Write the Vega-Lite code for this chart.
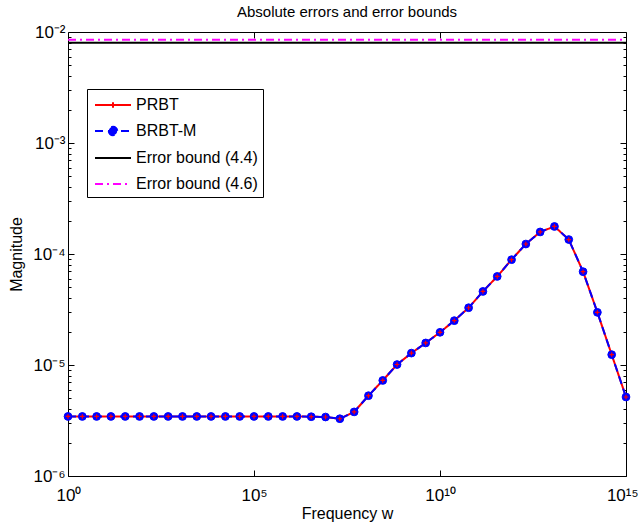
{
  "$schema": "https://vega.github.io/schema/vega-lite/v6.json",
  "width": 558,
  "height": 444,
  "autosize": "none",
  "padding": {"left": 68, "top": 32, "right": 14, "bottom": 49},
  "background": "white",
  "config": {
    "view": {"stroke": "black", "strokeWidth": 1},
    "font": "Liberation Sans",
    "axis": {"grid": false, "labelFont": "Liberation Sans", "titleFont": "Liberation Sans", "labelColor": "black", "titleColor": "black", "tickColor": "black", "domainColor": "black", "tickWidth": 1}
  },
  "title": {"text": "Absolute errors and error bounds", "fontSize": 15, "fontWeight": "normal", "font": "Liberation Sans", "color": "black", "offset": 3},
  "datasets": {
    "curve": [
      {"w": 1, "PRBT": 3.44e-6, "BRBT-M": 3.44e-6},
      {"w": 2.4245, "PRBT": 3.44e-6, "BRBT-M": 3.44e-6},
      {"w": 5.878, "PRBT": 3.44e-6, "BRBT-M": 3.44e-6},
      {"w": 14.251, "PRBT": 3.44e-6, "BRBT-M": 3.44e-6},
      {"w": 34.551, "PRBT": 3.44e-6, "BRBT-M": 3.44e-6},
      {"w": 83.768, "PRBT": 3.44e-6, "BRBT-M": 3.44e-6},
      {"w": 203.09, "PRBT": 3.44e-6, "BRBT-M": 3.44e-6},
      {"w": 492.39, "PRBT": 3.44e-6, "BRBT-M": 3.44e-6},
      {"w": 1193.8, "PRBT": 3.44e-6, "BRBT-M": 3.44e-6},
      {"w": 2894.3, "PRBT": 3.44e-6, "BRBT-M": 3.44e-6},
      {"w": 7017.0, "PRBT": 3.44e-6, "BRBT-M": 3.44e-6},
      {"w": 17013, "PRBT": 3.44e-6, "BRBT-M": 3.44e-6},
      {"w": 41246, "PRBT": 3.44e-6, "BRBT-M": 3.44e-6},
      {"w": 100000, "PRBT": 3.44e-6, "BRBT-M": 3.44e-6},
      {"w": 242450, "PRBT": 3.44e-6, "BRBT-M": 3.44e-6},
      {"w": 587800, "PRBT": 3.44e-6, "BRBT-M": 3.44e-6},
      {"w": 1425100, "PRBT": 3.44e-6, "BRBT-M": 3.44e-6},
      {"w": 3455100, "PRBT": 3.42e-6, "BRBT-M": 3.42e-6},
      {"w": 8376800, "PRBT": 3.40e-6, "BRBT-M": 3.40e-6},
      {"w": 20309000, "PRBT": 3.28e-6, "BRBT-M": 3.28e-6},
      {"w": 49239000, "PRBT": 3.78e-6, "BRBT-M": 3.78e-6},
      {"w": 119380000, "PRBT": 5.29e-6, "BRBT-M": 5.29e-6},
      {"w": 289430000, "PRBT": 7.26e-6, "BRBT-M": 7.26e-6},
      {"w": 701700000, "PRBT": 1.01e-5, "BRBT-M": 1.01e-5},
      {"w": 1701300000, "PRBT": 1.28e-5, "BRBT-M": 1.28e-5},
      {"w": 4124600000, "PRBT": 1.58e-5, "BRBT-M": 1.58e-5},
      {"w": 10000000000, "PRBT": 1.97e-5, "BRBT-M": 1.97e-5},
      {"w": 24245000000, "PRBT": 2.51e-5, "BRBT-M": 2.51e-5},
      {"w": 58780000000, "PRBT": 3.28e-5, "BRBT-M": 3.28e-5},
      {"w": 142510000000, "PRBT": 4.60e-5, "BRBT-M": 4.60e-5},
      {"w": 345510000000, "PRBT": 6.28e-5, "BRBT-M": 6.28e-5},
      {"w": 837680000000, "PRBT": 8.89e-5, "BRBT-M": 8.89e-5},
      {"w": 2030900000000, "PRBT": 1.23e-4, "BRBT-M": 1.23e-4},
      {"w": 4923900000000, "PRBT": 1.58e-4, "BRBT-M": 1.58e-4},
      {"w": 11938000000000, "PRBT": 1.77e-4, "BRBT-M": 1.77e-4},
      {"w": 28943000000000, "PRBT": 1.35e-4, "BRBT-M": 1.35e-4},
      {"w": 70170000000000, "PRBT": 6.93e-5, "BRBT-M": 6.93e-5},
      {"w": 170130000000000, "PRBT": 2.98e-5, "BRBT-M": 2.98e-5},
      {"w": 412460000000000, "PRBT": 1.24e-5, "BRBT-M": 1.24e-5},
      {"w": 1000000000000000, "PRBT": 5.15e-6, "BRBT-M": 5.15e-6}
    ],
    "bounds": [
      {"series": "Error bound (4.4)", "w": 1, "y": 0.0080},
      {"series": "Error bound (4.4)", "w": 1000000000000000, "y": 0.0080},
      {"series": "Error bound (4.6)", "w": 1, "y": 0.0085},
      {"series": "Error bound (4.6)", "w": 1000000000000000, "y": 0.0085}
    ]
  },
  "layer": [
    {
      "data": {"name": "bounds"},
      "mark": {"type": "line", "strokeWidth": 2, "clip": true},
      "encoding": {
        "x": {"field": "w", "type": "quantitative", "scale": {"type": "log", "domain": [1, 1e15], "nice": false},
          "axis": {"orient": "bottom", "values": [1, 1e5, 1e10, 1e15], "ticks": true, "tickSize": 6, "offset": -6, "domain": false, "labelFontSize": 17, "labelPadding": 11, "labelFlush": true, "labelFlushOffset": 12,
            "labelExpr": "'10' + (datum.value < 10 ? '⁰' : datum.value < 1e6 ? '⁵' : datum.value < 1e11 ? '¹⁰' : '¹⁵')",
            "title": "Frequency w", "titleFontSize": 16, "titleFontWeight": "normal", "titlePadding": 2}},
        "y": {"field": "y", "type": "quantitative", "scale": {"type": "log", "domain": [1e-6, 1e-2], "nice": false},
          "axis": {"orient": "left", "values": [1e-6, 1e-5, 1e-4, 1e-3, 1e-2], "ticks": true, "tickSize": 6, "offset": -6, "domain": false, "labelFontSize": 17, "labelPadding": 3, "labelFlush": false,
            "labelExpr": "'10' + (datum.value < 3e-6 ? '⁻⁶' : datum.value < 3e-5 ? '⁻⁵' : datum.value < 3e-4 ? '⁻⁴' : datum.value < 3e-3 ? '⁻³' : '⁻²')",
            "title": "Magnitude", "titleFontSize": 16, "titleFontWeight": "normal", "titlePadding": 8}},
        "color": {"field": "series", "type": "nominal",
          "scale": {"domain": ["PRBT", "BRBT-M", "Error bound (4.4)", "Error bound (4.6)"], "range": ["#ff0000", "#0000ff", "#000000", "#ff00ff"]},
          "legend": {"title": null, "orient": "none", "legendX": 19, "legendY": 57, "padding": 5, "strokeColor": "black", "fillColor": "white",
            "labelFontSize": 16, "labelFont": "Liberation Sans", "labelColor": "black", "symbolSize": 400, "symbolStrokeWidth": 2, "symbolType": "stroke", "symbolOffset": 10, "labelOffset": 12, "rowPadding": 7,
            "encode": {"symbols": {"update": {
              "shape": {"signal": "datum.value === 'PRBT' ? 'M-1.8,0H1.8M0,-0.28V0.28' : datum.value === 'BRBT-M' ? 'M-1.8,0H1.8M-0.42,0A0.42,0.42,0,1,0,0.42,0A0.42,0.42,0,1,0,-0.42,0Z' : 'M-1.8,0H1.8'"},
              "fill": {"signal": "datum.value === 'BRBT-M' ? '#0000ff' : 'transparent'"}
            }}}}},
        "strokeDash": {"field": "series", "type": "nominal",
          "scale": {"domain": ["PRBT", "BRBT-M", "Error bound (4.4)", "Error bound (4.6)"], "range": [[1, 0], [8, 5], [1, 0], [8, 4, 2, 4]]},
          "legend": {"title": null}}
      }
    },
    {
      "data": {"name": "curve"},
      "transform": [{"fold": ["PRBT", "BRBT-M"], "as": ["series", "y"]}],
      "mark": {"type": "line", "strokeWidth": 2},
      "encoding": {
        "x": {"field": "w", "type": "quantitative", "scale": {"type": "log", "domain": [1, 1e15], "nice": false},
          "axis": {"orient": "top", "values": [1e5, 1e10], "labels": false, "domain": false, "title": null, "tickSize": 6, "offset": -6}},
        "y": {"field": "y", "type": "quantitative", "scale": {"type": "log", "domain": [1e-6, 1e-2], "nice": false},
          "axis": {"orient": "left", "labels": false, "domain": false, "title": null, "tickSize": 3, "offset": -3,
            "values": [2e-6, 3e-6, 4e-6, 5e-6, 6e-6, 7e-6, 8e-6, 9e-6, 2e-5, 3e-5, 4e-5, 5e-5, 6e-5, 7e-5, 8e-5, 9e-5, 2e-4, 3e-4, 4e-4, 5e-4, 6e-4, 7e-4, 8e-4, 9e-4, 2e-3, 3e-3, 4e-3, 5e-3, 6e-3, 7e-3, 8e-3, 9e-3]}},
        "color": {"field": "series", "type": "nominal"},
        "strokeDash": {"field": "series", "type": "nominal"}
      }
    },
    {
      "data": {"name": "curve"},
      "mark": {"type": "point", "shape": "circle", "filled": true, "size": 60, "color": "#0000ff", "stroke": "#0000ff", "strokeWidth": 1, "opacity": 1},
      "encoding": {
        "x": {"field": "w", "type": "quantitative", "scale": {"type": "log", "domain": [1, 1e15], "nice": false}, "axis": null},
        "y": {"field": "BRBT-M", "type": "quantitative", "scale": {"type": "log", "domain": [1e-6, 1e-2], "nice": false},
          "axis": {"orient": "right", "labels": false, "domain": false, "title": null, "tickSize": 6, "offset": -6,
            "values": [1e-6, 1e-5, 1e-4, 1e-3, 1e-2]}}
      }
    },
    {
      "data": {"name": "curve"},
      "mark": {"type": "point", "shape": "M-1,0H1M0,-1V1", "filled": false, "size": 20, "color": "#ff0000", "strokeWidth": 1.2, "opacity": 1},
      "encoding": {
        "x": {"field": "w", "type": "quantitative", "scale": {"type": "log", "domain": [1, 1e15], "nice": false}, "axis": null},
        "y": {"field": "PRBT", "type": "quantitative", "scale": {"type": "log", "domain": [1e-6, 1e-2], "nice": false},
          "axis": {"orient": "right", "labels": false, "domain": false, "title": null, "tickSize": 3, "offset": -3,
            "values": [2e-6, 3e-6, 4e-6, 5e-6, 6e-6, 7e-6, 8e-6, 9e-6, 2e-5, 3e-5, 4e-5, 5e-5, 6e-5, 7e-5, 8e-5, 9e-5, 2e-4, 3e-4, 4e-4, 5e-4, 6e-4, 7e-4, 8e-4, 9e-4, 2e-3, 3e-3, 4e-3, 5e-3, 6e-3, 7e-3, 8e-3, 9e-3]}}
      }
    }
  ],
  "resolve": {"axis": {"x": "independent", "y": "independent"}}
}
